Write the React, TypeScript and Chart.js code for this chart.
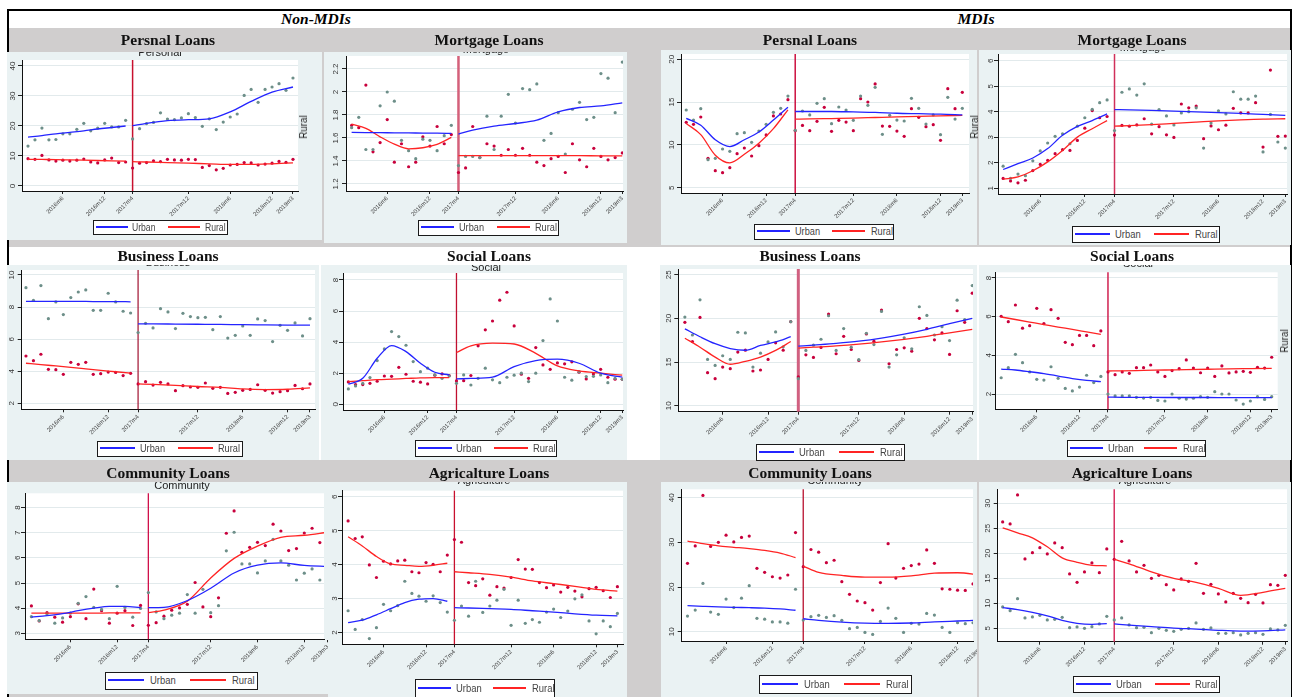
import React, { useEffect, useRef } from "react";
import { Chart, registerables } from "chart.js";
Chart.register(...registerables);
Chart.defaults.font.family = "'Liberation Sans', Arial, sans-serif";

// ---------- categories ----------
const MONTHS = [
  "2016m1","2016m2","2016m3","2016m4","2016m5","2016m6","2016m7","2016m8","2016m9","2016m10","2016m11","2016m12",
  "2017m1","2017m2","2017m3","2017m4","2017m5","2017m6","2017m7","2017m8","2017m9","2017m10","2017m11","2017m12",
  "2018m1","2018m2","2018m3","2018m4","2018m5","2018m6","2018m7","2018m8","2018m9","2018m10","2018m11","2018m12",
  "2019m1","2019m2","2019m3",
];
const TICK_LABELS = ["2016m6","2016m12","2017m4","2017m12","2018m6","2018m12","2019m3"];
const BREAK_MONTH = "2017m4";
const PRE_KNOTS = ["2016m1","2016m3","2016m5","2016m7","2016m9","2016m11","2017m1","2017m3"];
const POST_KNOTS = ["2017m4","2017m6","2017m9","2017m12","2018m3","2018m6","2018m9","2018m12","2019m3"];

// ---------- Non-MDIs ----------
const NM_PERSONAL_URBAN = [13.3,15.4,19.3,15.4,15.5,17.4,17.4,18.9,20.9,18.4,19.3,20.9,19.7,19.7,21.9,15.7,19.1,20.8,21.2,24.4,22.3,22.1,22.7,24.1,22.8,19.9,22.4,18.8,21.3,23.0,24.0,30.2,32.2,27.9,32.2,33.0,34.1,31.9,36.0];
const NM_PERSONAL_RURAL = [9.1,8.9,10.2,8.7,8.3,8.6,8.3,8.6,9.0,8.0,7.7,8.7,9.3,7.8,8.0,6.0,7.6,7.8,8.4,8.1,8.9,8.7,8.6,8.9,8.8,6.2,6.8,5.4,5.9,7.0,7.2,7.8,7.7,7.0,7.3,7.6,8.2,7.9,8.9];
const NM_PERSONAL_URBAN_FIT = [16.3,16.8,17.4,17.9,18.4,19.0,19.5,20.0,20.1,20.9,21.8,22.1,22.4,24.7,28.2,31.3,33.0];
const NM_PERSONAL_RURAL_FIT = [8.9,8.85,8.8,8.7,8.6,8.5,8.4,8.3,8.1,8.0,7.8,7.6,7.4,7.2,7.2,7.4,7.7];

const NM_MORTGAGE_URBAN = [1.69,1.78,1.50,1.50,1.88,2.00,1.92,1.58,1.49,1.42,1.59,1.58,1.49,1.62,1.71,1.36,1.44,1.44,1.43,1.79,1.50,1.79,1.98,1.73,2.03,2.02,2.07,1.58,1.64,1.82,1.46,1.85,1.91,1.76,1.78,2.16,2.12,1.82,2.26];
const NM_MORTGAGE_RURAL = [1.71,1.69,2.06,1.48,1.56,1.76,1.39,1.55,1.35,1.39,1.61,1.53,1.70,1.55,1.63,1.30,1.34,1.70,1.43,1.55,1.53,1.45,1.50,1.45,1.51,1.45,1.39,1.36,1.42,1.44,1.30,1.55,1.41,1.35,1.51,1.44,1.41,1.43,1.47];
const NM_MORTGAGE_URBAN_FIT = [1.648,1.647,1.646,1.645,1.644,1.643,1.642,1.640,1.634,1.668,1.703,1.726,1.755,1.827,1.865,1.879,1.905];
const NM_MORTGAGE_RURAL_FIT = [1.72,1.683,1.61,1.547,1.506,1.515,1.544,1.605,1.447,1.447,1.446,1.446,1.446,1.446,1.446,1.445,1.445];

const NM_BUSINESS_URBAN = [9.21,8.42,9.34,7.28,8.32,7.53,8.59,8.94,9.07,7.8,7.8,8.86,8.32,7.74,7.63,6.41,6.99,6.7,7.9,7.7,6.66,7.61,7.41,7.34,7.36,6.59,7.41,6.07,6.24,6.82,6.24,7.26,7.16,5.85,6.86,6.55,7.01,6.2,7.28];
const NM_BUSINESS_RURAL = [4.95,4.66,5.06,4.12,4.1,3.81,4.56,4.43,4.56,3.81,3.85,3.95,3.93,3.73,3.87,3.21,3.35,3.14,3.31,3.21,2.79,3.1,3.02,3.0,3.27,2.94,3.0,2.62,2.69,2.81,2.87,3.16,2.81,2.64,2.73,2.79,3.12,2.91,3.21];
const NM_BUSINESS_URBAN_FIT = [8.36,8.36,8.35,8.35,8.35,8.34,8.34,8.33,6.95,6.95,6.94,6.93,6.92,6.9,6.89,6.88,6.87];
const NM_BUSINESS_RURAL_FIT = [4.5,4.42,4.33,4.24,4.15,4.06,3.97,3.88,3.21,3.18,3.12,3.05,3.0,2.9,2.86,2.88,2.96];

const NM_SOCIAL_URBAN = [0.99,1.18,1.35,1.72,2.81,3.56,4.68,4.36,3.8,2.75,2.1,2.32,1.89,1.67,1.82,1.35,1.89,1.24,1.67,2.32,1.57,1.39,1.74,1.87,2.0,1.46,2.0,4.1,6.78,5.36,1.74,1.55,2.1,1.78,1.8,1.89,1.39,1.67,1.61];
const NM_SOCIAL_RURAL = [1.44,1.27,1.27,1.35,1.48,1.82,1.8,2.38,1.93,1.48,1.42,1.31,1.87,1.95,1.85,1.5,1.52,1.85,3.76,4.79,5.36,6.7,7.21,5.04,1.93,1.67,3.65,2.53,2.25,2.66,2.6,2.73,2.06,1.63,1.95,2.25,1.74,1.61,1.61];
const NM_SOCIAL_URBAN_FIT = [1.29,1.67,2.96,3.78,3.39,2.64,2.06,1.89,1.63,1.66,1.74,2.42,2.81,2.9,2.64,2.0,1.74];
const NM_SOCIAL_RURAL_FIT = [1.46,1.52,1.58,1.62,1.66,1.7,1.72,1.72,3.33,3.76,3.93,3.88,3.28,2.47,2.15,2.0,1.87];

const NM_COMMUNITY_URBAN = [3.66,3.5,3.77,3.4,3.61,3.8,4.19,4.46,4.03,3.95,3.58,4.87,4.03,3.64,3.99,4.62,3.85,3.58,3.72,3.8,4.54,3.8,4.75,3.82,4.1,6.28,7.02,5.76,5.76,5.4,5.88,6.74,5.88,5.71,5.12,5.39,5.56,5.12,5.6];
const NM_COMMUNITY_RURAL = [4.09,3.49,3.82,3.64,3.44,3.66,4.17,3.58,4.76,3.9,3.4,3.8,3.9,3.31,4.11,3.32,3.42,3.68,3.92,4.01,4.15,5.02,4.05,3.66,4.41,6.98,7.87,6.22,6.42,6.62,6.49,7.34,7.07,6.29,6.37,6.99,7.18,6.61,7.0];
const NM_COMMUNITY_URBAN_FIT = [3.64,3.7,3.78,3.9,4.0,4.07,4.07,4.02,4.02,4.03,4.3,4.79,5.4,5.71,5.8,5.7,5.66];
const NM_COMMUNITY_RURAL_FIT = [3.8,3.8,3.8,3.8,3.8,3.81,3.81,3.81,3.82,3.92,4.28,5.2,5.98,6.47,6.82,6.9,7.02];

const NM_AGRI_URBAN = [2.64,2.09,2.38,1.82,2.14,2.83,2.64,2.79,3.51,3.15,3.07,2.92,3.08,2.88,2.6,2.36,2.78,2.48,3.51,2.59,2.78,2.95,3.27,2.21,2.95,2.27,2.38,2.3,2.6,2.69,2.44,2.63,2.99,3.11,2.34,1.96,2.34,2.17,2.56];
const NM_AGRI_RURAL = [5.29,4.77,4.82,3.99,3.62,4.1,4.02,4.11,4.13,3.79,3.76,4.06,4.01,3.79,4.28,4.74,4.66,3.47,3.38,3.58,3.1,3.35,3.31,3.62,4.15,3.87,3.86,3.47,3.32,3.4,3.19,3.33,3.22,3.05,3.29,3.33,3.23,3.03,3.35];
const NM_AGRI_URBAN_FIT = [2.29,2.36,2.52,2.7,2.88,2.98,3.0,2.92,2.73,2.72,2.7,2.68,2.64,2.6,2.55,2.51,2.49];
const NM_AGRI_RURAL_FIT = [4.82,4.55,4.24,4.02,3.98,3.95,3.98,4.04,3.79,3.76,3.71,3.63,3.52,3.44,3.36,3.27,3.22];

// ---------- MDIs ----------
const MDI_PERSONAL_URBAN = [14.08,12.9,14.23,8.27,8.43,9.52,9.25,11.31,11.43,10.3,11.62,12.4,13.8,14.27,15.71,11.7,13.96,13.5,14.86,15.4,12.48,14.43,14.08,12.87,15.71,14.62,16.73,11.23,13.45,12.9,12.79,15.44,14.27,12.44,13.5,11.19,15.56,13.02,14.27];
const MDI_PERSONAL_RURAL = [12.64,12.4,13.26,8.43,6.99,6.75,7.34,8.97,9.64,8.7,9.91,11.16,13.38,13.61,15.28,11.66,12.28,11.66,12.75,14.39,11.58,12.87,12.67,11.66,15.4,15.01,17.12,12.2,12.17,11.62,11.0,14.23,13.22,12.13,12.36,10.53,16.57,14.23,16.14];
const MDI_PERSONAL_URBAN_FIT = [13.1,12.3,10.6,9.8,10.6,11.5,12.9,14.4,13.9,13.9,13.9,13.85,13.8,13.7,13.65,13.6,13.5];
const MDI_PERSONAL_RURAL_FIT = [12.5,11.2,8.8,7.9,8.9,10.2,11.9,14.1,13.0,13.03,13.08,13.13,13.2,13.27,13.33,13.4,13.45];

const MDI_MORTGAGE_URBAN = [1.87,1.39,1.56,1.5,2.08,2.47,2.78,3.04,3.14,2.75,3.44,3.77,4.1,4.36,4.47,3.27,4.77,4.9,4.66,5.1,3.52,4.09,3.84,3.49,3.96,4.01,4.16,2.58,3.56,4.04,3.92,4.79,4.5,4.5,4.62,2.43,3.9,2.82,2.58];
const MDI_MORTGAGE_RURAL = [1.39,1.29,1.22,1.32,1.7,1.94,2.1,2.36,2.52,2.49,2.88,3.36,4.05,3.77,3.82,3.09,3.47,3.44,3.49,3.73,3.14,3.42,3.1,3.0,4.31,4.16,4.23,2.95,3.45,3.3,3.48,4.14,3.96,3.96,4.36,2.62,5.64,3.04,3.05];
const MDI_MORTGAGE_URBAN_FIT = [1.74,1.97,2.19,2.56,3.08,3.43,3.66,3.92,4.09,4.08,4.06,4.03,4.0,3.97,3.94,3.9,3.86];
const MDI_MORTGAGE_RURAL_FIT = [1.36,1.45,1.69,2.04,2.49,3.01,3.34,3.66,3.44,3.46,3.5,3.55,3.6,3.65,3.69,3.72,3.73];

const MDI_BUSINESS_URBAN = [20.15,18.1,22.12,15.3,14.62,15.72,15.3,18.41,18.33,14.43,16.02,17.31,18.45,16.74,19.62,13.1,16.33,16.93,17.61,20.3,16.33,18.83,16.7,15.27,18.3,17.0,20.8,14.43,15.83,17.77,16.52,21.33,20.34,18.1,19.05,17.46,22.08,19.85,23.75];
const MDI_BUSINESS_RURAL = [19.55,17.35,20.11,13.79,13.1,14.43,14.24,16.14,16.36,13.98,14.09,15.3,17.2,16.36,19.62,13.3,15.83,15.53,16.67,20.49,15.95,17.95,16.44,15.19,18.22,17.39,20.95,14.81,16.44,16.63,16.25,20.0,18.83,17.54,18.33,15.87,20.87,19.55,22.88];
const MDI_BUSINESS_URBAN_FIT = [18.8,17.9,17.1,16.55,16.35,16.9,17.3,17.9,16.82,16.95,17.15,17.4,17.75,18.2,18.75,19.4,20.0];
const MDI_BUSINESS_RURAL_FIT = [17.73,16.7,15.57,14.75,15.08,15.57,16.33,17.35,16.6,16.7,16.85,17.05,17.3,17.6,17.95,18.35,18.75];

const MDI_SOCIAL_URBAN = [2.84,3.36,4.05,3.62,3.14,2.76,2.72,3.41,2.81,2.29,2.16,2.36,2.97,2.59,2.91,2.0,1.9,1.9,1.9,1.83,1.79,1.83,1.67,1.64,2.0,1.78,1.74,1.78,1.86,1.83,2.12,2.0,2.0,1.69,1.48,1.64,1.86,1.72,1.86];
const MDI_SOCIAL_RURAL = [6.02,5.74,6.6,5.4,5.53,6.43,5.64,6.36,5.91,4.67,4.55,5.03,5.03,4.5,5.26,3.14,3.0,3.14,3.07,3.36,3.36,3.5,3.14,2.91,3.21,3.31,3.76,3.34,3.1,3.34,2.91,3.45,3.09,3.14,3.17,3.12,3.38,3.34,3.9];
const MDI_SOCIAL_URBAN_FIT = [3.29,3.24,3.15,3.05,2.93,2.8,2.7,2.64,1.84,1.83,1.83,1.82,1.82,1.82,1.81,1.81,1.81];
const MDI_SOCIAL_RURAL_FIT = [5.98,5.85,5.72,5.59,5.46,5.34,5.21,5.08,3.19,3.2,3.22,3.24,3.26,3.28,3.3,3.31,3.32];

const MDI_COMMUNITY_URBAN = [13.5,14.85,20.8,14.4,13.9,17.3,15.4,17.5,20.3,13.0,12.8,12.2,12.2,11.9,19.5,12.6,13.36,13.66,13.2,13.58,12.54,10.67,10.97,9.85,9.4,12.3,15.3,13.0,9.85,11.87,11.7,14.1,13.73,10.97,9.85,12.0,11.8,12.0,12.2];
const MDI_COMMUNITY_RURAL = [25.3,29.2,40.5,29.1,30.0,31.6,30.1,31.1,31.4,24.2,23.3,22.3,22.0,22.7,32.2,24.55,28.4,27.8,25.45,26.0,21.2,18.36,16.87,16.5,14.85,21.0,29.7,22.0,24.2,24.8,25.15,28.3,25.3,19.6,19.5,19.3,19.25,20.7,21.0];
const MDI_COMMUNITY_URBAN_FIT = [15.82,15.68,15.55,15.45,15.38,15.28,15.1,14.8,12.9,12.55,12.15,11.9,11.85,11.95,12.2,12.4,12.6];
const MDI_COMMUNITY_RURAL_FIT = [30.3,29.7,29.2,28.9,28.6,28.2,27.6,26.6,24.7,23.3,22.6,22.2,22.2,22.5,23.1,23.2,22.7];

const MDI_AGRI_URBAN = [9.27,8.53,10.93,7.07,7.27,7.6,6.67,6.8,7.2,5.13,5.27,5.0,5.33,5.87,7.4,6.67,7.07,5.67,5.13,5.2,4.13,5.0,4.6,4.4,4.8,5.0,6.07,4.8,5.07,4.0,4.0,4.13,3.67,4.0,4.13,3.8,4.87,4.67,5.6];
const MDI_AGRI_RURAL = [26.27,25.87,31.67,18.87,20.13,21.13,19.87,22.07,21.13,15.87,14.2,16.27,18.07,16.13,20.87,18.8,22.4,18.47,16.27,17.6,15.0,15.6,13.73,12.67,14.87,14.4,18.0,12.0,13.8,11.87,10.27,12.0,11.0,10.13,11.8,10.07,13.73,13.6,15.6];
const MDI_AGRI_URBAN_FIT = [9.13,8.75,8.2,7.5,6.6,6.0,5.8,5.95,5.87,5.65,5.35,5.05,4.85,4.6,4.45,4.5,4.7];
const MDI_AGRI_RURAL_FIT = [25.1,24.1,23.1,21.3,19.1,18.2,17.6,17.5,18.8,17.9,16.3,15.0,14.2,13.0,11.6,12.2,13.0];

// ---------- styling ----------
const GRAY_BG = "#d0cece";
const AREA_BG = "#eaf2f3";
const URBAN_PT = "#6d8f89";
const RURAL_PT = "#c8003c";
const BLUE = "#2424ff";
const RED = "#ff2424";
const SERIF = "'Liberation Serif', 'Times New Roman', serif";
const SANS = "'Liberation Sans', Arial, sans-serif";

type Box = [number, number, number, number];
type PanelCfg = {
  title: string; tx: number; ty: number;
  area: Box; plot: Box;
  xr: [number, number]; yr: [number, number]; yt: number[];
  urban: number[]; rural: number[]; urbanFit: number[]; ruralFit: number[];
  legend: Box;
  sub?: string; subX?: number; subTop?: number;
  vColor: string; vWidth: number;
  side?: { text: string; x: number; y: number };
};

const PANELS: PanelCfg[] = [
  { title: "Persnal Loans", tx: 168, ty: 40, area: [7, 52, 322, 240], plot: [22, 60, 298, 191], xr: [-0.86, 38.72], yr: [-1.67, 42], yt: [0, 10, 20, 30, 40],
    urban: NM_PERSONAL_URBAN, rural: NM_PERSONAL_RURAL, urbanFit: NM_PERSONAL_URBAN_FIT, ruralFit: NM_PERSONAL_RURAL_FIT,
    legend: [93, 220, 228, 235], sub: "Personal", subX: 160, subTop: -6, vColor: "#c8102e", vWidth: 1.5, side: { text: "Rural", x: 303, y: 127 } },
  { title: "Mortgage Loans", tx: 489, ty: 40, area: [324, 52, 627, 243], plot: [346, 56, 626, 191], xr: [-0.79, 38.1], yr: [1.139, 2.313], yt: [1.2, 1.4, 1.6, 1.8, 2, 2.2],
    urban: NM_MORTGAGE_URBAN, rural: NM_MORTGAGE_RURAL, urbanFit: NM_MORTGAGE_URBAN_FIT, ruralFit: NM_MORTGAGE_RURAL_FIT,
    legend: [418, 220, 559, 236], sub: "Mortgage", subX: 486, subTop: -9, vColor: "#d4607a", vWidth: 2.5 },
  { title: "Persnal Loans", tx: 810, ty: 40, area: [661, 50, 977, 245], plot: [681, 54, 969, 193], xr: [-0.72, 38.92], yr: [4.38, 20.62], yt: [5, 10, 15, 20],
    urban: MDI_PERSONAL_URBAN, rural: MDI_PERSONAL_RURAL, urbanFit: MDI_PERSONAL_URBAN_FIT, ruralFit: MDI_PERSONAL_RURAL_FIT,
    legend: [754, 224, 894, 240], sub: "Personal", subX: 825, subTop: -10, vColor: "#cc1040", vWidth: 1.5, side: { text: "Rural", x: 974, y: 127 } },
  { title: "Mortgage Loans", tx: 1132, ty: 40, area: [979, 50, 1291, 245], plot: [998, 53, 1290, 194], xr: [-0.69, 38.23], yr: [0.78, 6.27], yt: [1, 2, 3, 4, 5, 6],
    urban: MDI_MORTGAGE_URBAN, rural: MDI_MORTGAGE_RURAL, urbanFit: MDI_MORTGAGE_URBAN_FIT, ruralFit: MDI_MORTGAGE_RURAL_FIT,
    legend: [1072, 226, 1220, 243], sub: "Mortgage", subX: 1143, subTop: -9, vColor: "#d0305a", vWidth: 1.5 },

  { title: "Business Loans", tx: 168, ty: 256, area: [7, 265, 319, 460], plot: [21.7, 270, 316.7, 409.3], xr: [-0.57, 38.67], yr: [1.63, 10.31], yt: [2, 4, 6, 8, 10],
    urban: NM_BUSINESS_URBAN, rural: NM_BUSINESS_RURAL, urbanFit: NM_BUSINESS_URBAN_FIT, ruralFit: NM_BUSINESS_RURAL_FIT,
    legend: [96.7, 441, 242.7, 457.3], sub: "Business", subX: 168, subTop: -9, vColor: "#a0102e", vWidth: 1.2 },
  { title: "Social Loans", tx: 489, ty: 256, area: [321, 265, 627, 460], plot: [343, 273, 626, 410], xr: [-0.74, 38.1], yr: [-0.37, 8.45], yt: [0, 2, 4, 6, 8],
    urban: NM_SOCIAL_URBAN, rural: NM_SOCIAL_RURAL, urbanFit: NM_SOCIAL_URBAN_FIT, ruralFit: NM_SOCIAL_RURAL_FIT,
    legend: [415, 440, 557, 457], sub: "Social", subX: 486, subTop: -4, vColor: "#c01030", vWidth: 1.3 },
  { title: "Business Loans", tx: 810, ty: 256, area: [660, 265, 977, 460], plot: [678.3, 268.3, 976.7, 411.7], xr: [-0.87, 38.1], yr: [9.32, 25.65], yt: [10, 15, 20, 25],
    urban: MDI_BUSINESS_URBAN, rural: MDI_BUSINESS_RURAL, urbanFit: MDI_BUSINESS_URBAN_FIT, ruralFit: MDI_BUSINESS_RURAL_FIT,
    legend: [755.7, 444, 904.3, 460.7], vColor: "#d06080", vWidth: 3 },
  { title: "Social Loans", tx: 1132, ty: 256, area: [979, 265, 1291, 460], plot: [995.7, 272.3, 1277.7, 409.3], xr: [-0.77, 38.84], yr: [1.21, 8.29], yt: [2, 4, 6, 8],
    urban: MDI_SOCIAL_URBAN, rural: MDI_SOCIAL_RURAL, urbanFit: MDI_SOCIAL_URBAN_FIT, ruralFit: MDI_SOCIAL_RURAL_FIT,
    legend: [1066.7, 440, 1205.7, 457.3], sub: "Social", subX: 1138, subTop: -8, vColor: "#d02050", vWidth: 1.5, side: { text: "Rural", x: 1284, y: 341 } },

  { title: "Community Loans", tx: 168, ty: 473, area: [7, 482, 328, 694], plot: [25, 493.3, 328, 639.3], xr: [-0.82, 37.53], yr: [2.76, 8.57], yt: [3, 4, 5, 6, 7, 8],
    urban: NM_COMMUNITY_URBAN, rural: NM_COMMUNITY_RURAL, urbanFit: NM_COMMUNITY_URBAN_FIT, ruralFit: NM_COMMUNITY_RURAL_FIT,
    legend: [105, 671.7, 258.3, 690], sub: "Community", subX: 182, subTop: -3, vColor: "#d0104a", vWidth: 1.3 },
  { title: "Agricalture Loans", tx: 489, ty: 473, area: [328, 482, 627, 697], plot: [342, 490.7, 626.3, 644.3], xr: [-0.86, 38.79], yr: [1.65, 6.18], yt: [2, 3, 4, 5, 6],
    urban: NM_AGRI_URBAN, rural: NM_AGRI_RURAL, urbanFit: NM_AGRI_URBAN_FIT, ruralFit: NM_AGRI_RURAL_FIT,
    legend: [414.7, 679.3, 554.7, 698], sub: "Agriculture", subX: 484, subTop: -8, vColor: "#c8102e", vWidth: 1.3 },
  { title: "Community Loans", tx: 810, ty: 473, area: [661, 482, 977, 697], plot: [681.7, 489.3, 977, 641], xr: [-0.75, 37.0], yr: [7.92, 41.88], yt: [10, 20, 30, 40],
    urban: MDI_COMMUNITY_URBAN, rural: MDI_COMMUNITY_RURAL, urbanFit: MDI_COMMUNITY_URBAN_FIT, ruralFit: MDI_COMMUNITY_RURAL_FIT,
    legend: [759.3, 675, 912.3, 694.3], sub: "Community", subX: 835, subTop: -8, vColor: "#b8102e", vWidth: 1.3 },
  { title: "Agricalture Loans", tx: 1132, ty: 473, area: [979, 482, 1291, 697], plot: [997.7, 489.3, 1290, 641.7], xr: [-0.67, 38.23], yr: [2.32, 32.8], yt: [5, 10, 15, 20, 25, 30],
    urban: MDI_AGRI_URBAN, rural: MDI_AGRI_RURAL, urbanFit: MDI_AGRI_URBAN_FIT, ruralFit: MDI_AGRI_RURAL_FIT,
    legend: [1072.7, 676, 1220, 693.3], sub: "Agriculture", subX: 1145, subTop: -8, vColor: "#d83060", vWidth: 1.5 },
];

const idx = (m: string) => MONTHS.indexOf(m);

function PanelChart({ p }: { p: PanelCfg }) {
  const ref = useRef<HTMLCanvasElement>(null);
  const [ax0, ay0, ax1, ay1] = p.area;
  const W = Math.round(ax1 - ax0);
  const H = Math.round(ay1 - ay0);

  useEffect(() => {
    const [pl, pt, pr, pb] = p.plot;
    const yW = pl - ax0;
    const xH = ay1 - pb;
    const preIdx = PRE_KNOTS.map(idx);
    const postIdx = POST_KNOTS.map(idx);
    const pts = (arr: number[]) => arr.map((v, i) => ({ x: i, y: v }));
    const fitPre = (arr: number[]) => preIdx.map((m, k) => ({ x: m, y: arr[k] }));
    const fitPost = (arr: number[]) => postIdx.map((m, k) => ({ x: m, y: arr[preIdx.length + k] }));
    const lineDs = (data: any[], color: string) => ({
      data, showLine: true, borderColor: color, borderWidth: 1.3, pointRadius: 0,
      cubicInterpolationMode: "monotone", fill: false, order: 1,
    });
    const ptDs = (data: any[], color: string) => ({
      data, showLine: false, pointRadius: 1.6, pointBackgroundColor: color, pointBorderWidth: 0,
      borderColor: color, order: 2,
    });
    const breakX = idx(BREAK_MONTH);
    const tickIdx = TICK_LABELS.map(idx);

    const bgPlugin = {
      id: "plotbg",
      beforeDraw(chart: any) {
        const { ctx, chartArea } = chart;
        ctx.save();
        ctx.fillStyle = "#ffffff";
        ctx.fillRect(chartArea.left, chartArea.top, chartArea.right - chartArea.left, chartArea.bottom - chartArea.top);
        ctx.restore();
      },
    };
    const vlinePlugin = {
      id: "vline",
      beforeDatasetsDraw(chart: any) {
        const { ctx, chartArea, scales } = chart;
        const x = scales.x.getPixelForValue(breakX);
        ctx.save();
        ctx.strokeStyle = p.vColor;
        ctx.lineWidth = p.vWidth;
        ctx.beginPath();
        ctx.moveTo(x, chartArea.top);
        ctx.lineTo(x, chartArea.bottom);
        ctx.stroke();
        ctx.restore();
      },
    };

    const chart = new Chart(ref.current as HTMLCanvasElement, {
      type: "scatter",
      data: {
        datasets: [
          lineDs(fitPre(p.urbanFit), BLUE),
          lineDs(fitPost(p.urbanFit), BLUE),
          lineDs(fitPre(p.ruralFit), RED),
          lineDs(fitPost(p.ruralFit), RED),
          ptDs(pts(p.urban), URBAN_PT),
          ptDs(pts(p.rural), RURAL_PT),
        ] as any,
      },
      options: {
        animation: false,
        responsive: false,
        maintainAspectRatio: false,
        events: [],
        layout: { padding: { left: 0, top: pt - ay0, right: ax1 - pr, bottom: 0 } },
        plugins: { legend: { display: false }, tooltip: { enabled: false }, title: { display: false } },
        scales: {
          x: {
            type: "linear",
            min: p.xr[0],
            max: p.xr[1],
            afterBuildTicks: (s: any) => { s.ticks = tickIdx.map((v) => ({ value: v })); },
            afterFit: (s: any) => { s.height = xH; s.paddingLeft = 0; s.paddingRight = 0; },
            ticks: {
              autoSkip: false, minRotation: 45, maxRotation: 45, padding: 1,
              font: { size: 6 }, color: "#444",
              callback: (v: any) => MONTHS[Math.round(Number(v))],
            },
            grid: { display: true, drawOnChartArea: false, drawTicks: true, tickLength: 3, tickColor: "#222" },
            border: { display: true, color: "#111", width: 1 },
          },
          y: {
            type: "linear",
            min: p.yr[0],
            max: p.yr[1],
            afterBuildTicks: (s: any) => { s.ticks = p.yt.map((v) => ({ value: v })); },
            afterFit: (s: any) => { s.width = yW; s.paddingTop = 0; s.paddingBottom = 0; },
            ticks: {
              minRotation: 90, maxRotation: 90, crossAlign: "center", padding: 1,
              font: { size: 8 }, color: "#333",
              callback: (v: any) => String(v),
            },
            grid: { color: "#e2eaec", lineWidth: 1, drawTicks: true, tickLength: 4, tickColor: "#222" },
            border: { display: true, color: "#111", width: 1 },
          },
        },
      } as any,
      plugins: [bgPlugin, vlinePlugin],
    });
    return () => chart.destroy();
  }, []);

  return (
    <div style={{ position: "absolute", left: ax0, top: ay0, width: W, height: H, background: AREA_BG, overflow: "hidden" }}>
      <canvas ref={ref} width={W} height={H} style={{ position: "absolute", left: 0, top: 0, width: W, height: H }} />
      {p.sub && (
        <div style={{ position: "absolute", left: (p.subX as number) - ax0, top: p.subTop, transform: "translateX(-50%)", fontFamily: SANS, fontSize: 11, lineHeight: "13px", color: "#222", whiteSpace: "nowrap" }}>
          {p.sub}
        </div>
      )}
    </div>
  );
}

function Legend({ b }: { b: Box }) {
  const x0 = Math.round(b[0]);
  const y0 = Math.round(b[1]);
  const w = Math.round(b[2] - b[0]);
  const h = Math.round(b[3] - b[1]);
  const inner = h - 3;
  const fs = Math.min(11.5, h * 0.7);
  const lineTop = Math.floor(inner / 2) - 1;
  const lw = Math.round(w * 0.237);
  const txt = (left: number, label: string) => (
    <span style={{ position: "absolute", left, top: 0, height: inner, lineHeight: inner + "px", fontFamily: SANS, fontSize: fs, color: "#444", transform: "scaleX(0.82)", transformOrigin: "left center", whiteSpace: "nowrap" }}>{label}</span>
  );
  const ln = (left: number, color: string) => (
    <div style={{ position: "absolute", left, width: lw, top: lineTop, height: 2, background: color }} />
  );
  return (
    <div style={{ position: "absolute", left: x0, top: y0, width: w, height: h, background: "#fff", border: "1.5px solid #1a1a1a", boxSizing: "border-box" }}>
      {ln(Math.round(w * 0.012), BLUE)}
      {txt(Math.round(w * 0.285), "Urban")}
      {ln(Math.round(w * 0.55), RED)}
      {txt(Math.round(w * 0.825), "Rural")}
    </div>
  );
}

export default function App() {
  return (
    <div style={{ position: "absolute", left: 0, top: 0, width: 1300, height: 697, overflow: "hidden", background: "#fff" }}>
      <div style={{ position: "absolute", left: 8, top: 28, width: 1283, height: 669, background: GRAY_BG }} />
      <div style={{ position: "absolute", left: 8, top: 247, width: 1283, height: 213, background: "#fff" }} />
      <div style={{ position: "absolute", left: 7, top: 9, width: 1285, height: 700, border: "2px solid #000", boxSizing: "border-box" }} />
      <div style={{ position: "absolute", left: 316, top: 19, transform: "translate(-50%,-50%)", fontFamily: SERIF, fontWeight: "bold", fontStyle: "italic", fontSize: 15.5, whiteSpace: "nowrap", color: "#000" }}>Non-MDIs</div>
      <div style={{ position: "absolute", left: 976, top: 19, transform: "translate(-50%,-50%)", fontFamily: SERIF, fontWeight: "bold", fontStyle: "italic", fontSize: 15.5, whiteSpace: "nowrap", color: "#000" }}>MDIs</div>
      {PANELS.map((p, i) => (
        <PanelChart key={"c" + i} p={p} />
      ))}
      {PANELS.map((p, i) =>
        p.side ? (
          <div key={"s" + i} style={{ position: "absolute", left: p.side.x, top: p.side.y, transform: "translate(-50%,-50%) rotate(-90deg) scaleX(0.85)", fontFamily: SANS, fontSize: 11.5, color: "#222", whiteSpace: "nowrap" }}>
            {p.side.text}
          </div>
        ) : null
      )}
      {PANELS.map((p, i) => (
        <Legend key={"l" + i} b={p.legend} />
      ))}
      {PANELS.map((p, i) => (
        <div key={"t" + i} style={{ position: "absolute", left: p.tx, top: p.ty, transform: "translate(-50%,-50%)", fontFamily: SERIF, fontWeight: "bold", fontSize: 15.5, whiteSpace: "nowrap", color: "#111" }}>
          {p.title}
        </div>
      ))}
    </div>
  );
}
